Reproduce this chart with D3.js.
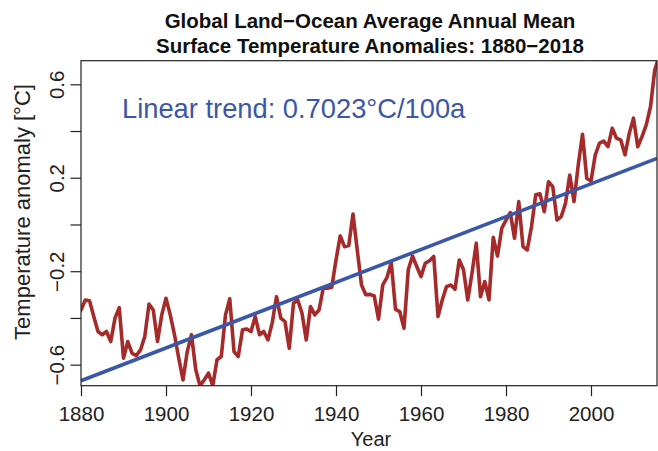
<!DOCTYPE html>
<html>
<head>
<meta charset="utf-8">
<script src="https://cdn.jsdelivr.net/npm/d3@7"></script>
<style>
  html, body { margin: 0; padding: 0; background: #fff; }
  svg { display: block; }
  text { font-family: "Liberation Sans", Arial, Helvetica, sans-serif; }
</style>
</head>
<body>
<svg id="chart" width="658" height="451"></svg>
<script>
// ---- Data ----
const startYear = 1880;
const anomalies = [
  -0.366, -0.323, -0.326, -0.394, -0.458, -0.472, -0.458, -0.501, -0.401, -0.356, // 1880-1889
  -0.572, -0.501, -0.551, -0.561, -0.537, -0.480, -0.341, -0.366, -0.501, -0.387, // 1890-1899
  -0.316, -0.387, -0.472, -0.572, -0.665, -0.544, -0.472, -0.622, -0.690, -0.665, // 1900-1909
  -0.636, -0.690, -0.579, -0.565, -0.387, -0.318, -0.544, -0.565, -0.451, -0.447, // 1910-1919
  -0.458, -0.394, -0.472, -0.458, -0.494, -0.420, -0.309, -0.401, -0.416, -0.530, // 1920-1929
  -0.337, -0.323, -0.380, -0.494, -0.351, -0.387, -0.366, -0.273, -0.273, -0.269, // 1930-1939
  -0.152, -0.049, -0.095, -0.090,  0.045, -0.109, -0.259, -0.301, -0.299, -0.306, // 1940-1949
  -0.405, -0.259, -0.226, -0.163, -0.363, -0.373, -0.444, -0.194, -0.135, -0.180, // 1950-1959
  -0.223, -0.166, -0.155, -0.137, -0.394, -0.323, -0.266, -0.259, -0.277, -0.152, // 1960-1969
  -0.194, -0.323, -0.209, -0.080, -0.309, -0.244, -0.323, -0.055, -0.135, -0.016, // 1970-1979
   0.019,  0.051, -0.059,  0.098, -0.095, -0.109, -0.009,  0.127,  0.131,  0.055, // 1980-1989
   0.183,  0.162,  0.019,  0.034,  0.091,  0.212,  0.098,  0.255,  0.386,  0.198, // 1990-1999
   0.186,  0.298,  0.348,  0.357,  0.333,  0.412,  0.369,  0.362,  0.298,  0.390, // 2000-2009
   0.455,  0.333,  0.376,  0.426,  0.504,  0.661,  0.720                          // 2010-2016
];
const years = anomalies.map((_, i) => startYear + i);

const trendIntercept1880 = -0.669;   // °C at 1880
const trendSlope = 0.007023;         // °C per year (0.7023 °C/100a)

const xTicks = [1880, 1900, 1920, 1940, 1960, 1980, 2000];
const yTicks = [-0.6, -0.4, -0.2, 0, 0.2, 0.4, 0.6];
const yTickLabels = ["\u22120.6", "", "\u22120.2", "", "0.2", "", "0.6"];

const titleLines = ["Global Land\u2212Ocean Average Annual Mean",
                    "Surface Temperature Anomalies: 1880\u22122018"];
const trendLabel = "Linear trend: 0.7023°C/100a";
const xLabel = "Year";
const yLabel = "Temperature anomaly [°C]";

// ---- Layout ----
const plotLeft = 81, plotRight = 657, plotTop = 60.7, plotBottom = 385.7;
const svg = d3.select("#chart");

const x = d3.scaleLinear().domain([1880, 2015.53]).range([plotLeft, plotRight]);
const y = d3.scaleLinear().domain([-0.690, 0.701]).range([plotBottom, plotTop]);

const axisColor = "#222";
const red = "#a52a2a";
const blue = "#3a57a8";
const tickFont = "20.5px";

// clip
svg.append("defs").append("clipPath").attr("id", "plotclip")
  .append("rect").attr("x", plotLeft).attr("y", plotTop)
  .attr("width", plotRight - plotLeft).attr("height", plotBottom - plotTop);

const g = svg.append("g").attr("clip-path", "url(#plotclip)");

// data line
const line = d3.line().x((d, i) => x(years[i])).y(d => y(d));
g.append("path").datum(anomalies)
  .attr("d", line)
  .attr("fill", "none")
  .attr("stroke", red)
  .attr("stroke-width", 3.6)
  .attr("stroke-linejoin", "round")
  .attr("stroke-linecap", "round");

// trend line
const trendYears = [1880, 2015.53];
g.append("path").datum(trendYears)
  .attr("d", d3.line().x(d => x(d)).y(d => y(trendIntercept1880 + trendSlope * (d - 1880))))
  .attr("fill", "none")
  .attr("stroke", blue)
  .attr("stroke-width", 3.6);

// box
svg.append("rect")
  .attr("x", plotLeft).attr("y", plotTop)
  .attr("width", plotRight - plotLeft).attr("height", plotBottom - plotTop)
  .attr("fill", "none").attr("stroke", axisColor).attr("stroke-width", 1.2);

// x axis
const xAxis = d3.axisBottom(x).tickValues(xTicks).tickFormat(d3.format("d"))
  .tickSize(10.5).tickPadding(10.5);
const xg = svg.append("g").attr("transform", `translate(0,${plotBottom})`).call(xAxis);
xg.select(".domain").remove();
xg.selectAll("line").attr("stroke", axisColor).attr("stroke-width", 1.2);
xg.selectAll("text").attr("fill", "#222").style("font-size", tickFont)
  .style("font-family", '"Liberation Sans", Arial, sans-serif');

// y axis
const yAxis = d3.axisLeft(y).tickValues(yTicks).tickFormat((d, i) => yTickLabels[i])
  .tickSize(10.5);
const yg = svg.append("g").attr("transform", `translate(${plotLeft},0)`).call(yAxis);
yg.select(".domain").remove();
yg.selectAll("line").attr("stroke", axisColor).attr("stroke-width", 1.2);
yg.selectAll(".tick text")
  .attr("x", 0).attr("y", 0).attr("dy", null)
  .attr("text-anchor", "middle")
  .attr("fill", "#222")
  .style("font-size", tickFont)
  .style("font-family", '"Liberation Sans", Arial, sans-serif')
  .attr("transform", `translate(${63.5 - plotLeft},0) rotate(-90)`);

// title
svg.append("g").selectAll("text").data(titleLines).join("text")
  .attr("x", 370).attr("y", (d, i) => 27.5 + i * 25)
  .attr("text-anchor", "middle")
  .attr("font-weight", "bold")
  .attr("fill", "#111")
  .style("font-size", "20.5px")
  .text(d => d);

// trend label
svg.append("text")
  .attr("x", 122).attr("y", 118.3)
  .attr("fill", blue)
  .style("font-size", "27.3px")
  .text(trendLabel);

// axis labels
svg.append("text")
  .attr("x", 371).attr("y", 446)
  .attr("text-anchor", "middle")
  .attr("fill", "#222")
  .style("font-size", "20px")
  .text(xLabel);

svg.append("text")
  .attr("transform", `translate(30,212) rotate(-90)`)
  .attr("text-anchor", "middle")
  .attr("fill", "#222")
  .style("font-size", "22px")
  .text(yLabel);
</script>
</body>
</html>
